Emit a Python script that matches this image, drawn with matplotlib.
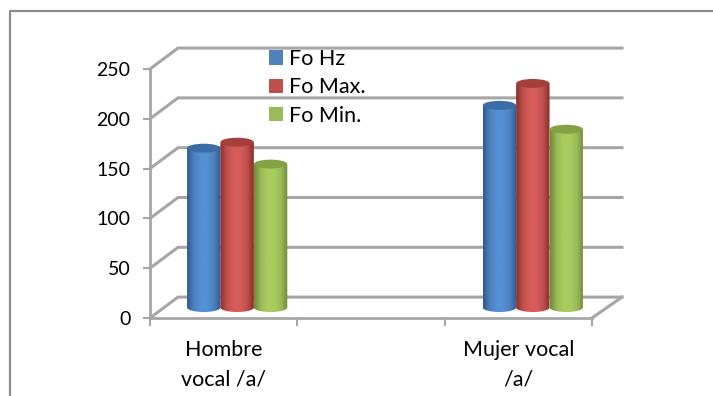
import numpy as np
import matplotlib
matplotlib.use("Agg")
import matplotlib.pyplot as plt
from matplotlib.patches import Ellipse, PathPatch, Rectangle
from matplotlib.path import Path
from matplotlib.lines import Line2D
from matplotlib.colors import LinearSegmentedColormap

categories = ["Hombre\nvocal /a/", "", "Mujer vocal\n/a/"]
series_names = ["Fo Hz", "Fo Max.", "Fo Min."]
fo_hz = [160, None, 203]
fo_max = [166, None, 225]
fo_min = [144, None, 179]
y_ticks = [0, 50, 100, 150, 200, 250]

base_colors = ["#4F81BD", "#C0504D", "#9BBB59"]
dark_edges = ["#2F5A92", "#8A2F2D", "#6F8C37"]
bright_mid = ["#5390D6", "#D65C59", "#A9CC5E"]
top_colors = ["#3B6CA8", "#A53F3C", "#83A244"]
GRAY = "#A6A6A6"

plt.rcParams["font.family"] = ["Lato", "DejaVu Sans"]
W, H = 713, 396
fig = plt.figure(figsize=(W / 100, H / 100), dpi=100)

# Front plane of the 3D box; the back wall sits behind it at a fixed depth.
ax = fig.add_axes([150 / W, 1 - 318 / H, 442 / W, 249 / H])
ax.set_xlim(0, 3)
ax.set_ylim(0, 250)
ax.patch.set_alpha(0)
for s in ("top", "right"):
    ax.spines[s].set_visible(False)
for s in ("left", "bottom"):
    ax.spines[s].set_color(GRAY)
    ax.spines[s].set_linewidth(2)

cat_px = 442 / 3
depth_left = 28 / cat_px
depth_right = 30 / cat_px
depth_y = 21

ax.set_yticks(y_ticks)
ax.tick_params(axis="y", length=5, width=1.5, color=GRAY, labelsize=14, pad=9)
ax.set_xticks([0, 1, 2, 3])
ax.set_xticklabels([])
ax.tick_params(axis="x", length=6, width=1.5, color=GRAY)
ax.set_xticks([0.5, 1.5, 2.5], minor=True)
ax.set_xticklabels(categories, minor=True, fontsize=15.5, linespacing=1.6)
ax.tick_params(axis="x", which="minor", length=0, pad=15.7)

# Back-wall gridlines with the diagonal return to the front axis.
for v in y_ticks:
    ax.plot([0, depth_left, 3 + depth_right], [v, v + depth_y, v + depth_y],
            color=GRAY, lw=2.2, clip_on=False, zorder=1, solid_joinstyle="miter")
ax.plot([3, 3 + depth_right], [0, depth_y], color=GRAY, lw=2.2, clip_on=False, zorder=1)

bar_w = 33.4 / cat_px
ell_h = 9
lift = 10.5
group_centers = [0.5 + 13.5 / cat_px, None, 2.5 + 14.5 / cat_px]
series = [fo_hz, fo_max, fo_min]

for i, vals in enumerate(series):
    cmap = LinearSegmentedColormap.from_list(
        "c", [dark_edges[i], base_colors[i], bright_mid[i], bright_mid[i], base_colors[i], dark_edges[i]])
    grad = np.linspace(0, 1, 64).reshape(1, -1)
    for c, v in enumerate(vals):
        if v is None:
            continue
        x0 = group_centers[c] + (i - 1.5) * bar_w
        x1 = x0 + bar_w
        xm = (x0 + x1) / 2
        y0, y1 = lift, lift + v
        kappa = 0.5523
        hw, hh = bar_w / 2, ell_h / 2
        # Cylinder outline: straight sides with a rounded lower edge.
        verts = [(x0, y1), (x0, y0),
                 (x0, y0 - kappa * hh), (xm - kappa * hw, y0 - hh), (xm, y0 - hh),
                 (xm + kappa * hw, y0 - hh), (x1, y0 - kappa * hh), (x1, y0),
                 (x1, y1), (x0, y1)]
        codes = [Path.MOVETO, Path.LINETO, Path.CURVE4, Path.CURVE4, Path.CURVE4,
                 Path.CURVE4, Path.CURVE4, Path.CURVE4, Path.LINETO, Path.CLOSEPOLY]
        body = PathPatch(Path(verts, codes), fc="none", ec="none", transform=ax.transData)
        ax.add_patch(body)
        im = ax.imshow(grad, extent=(x0, x1, y0 - hh, y1), cmap=cmap, aspect="auto",
                       zorder=3 + i * 0.1, clip_on=True, interpolation="bilinear")
        im.set_clip_path(body)
        ax.add_patch(Ellipse((xm, y1), bar_w, ell_h, fc=top_colors[i], ec="none",
                             zorder=3.05 + i * 0.1, clip_on=False))
ax.set_xlim(0, 3)
ax.set_ylim(0, 250)

# Legend entries placed over the back wall.
handles = [Rectangle((0, 0), 1, 1, fc=c, ec="none") for c in base_colors]
ax.legend(handles, series_names, loc="upper left", bbox_to_anchor=((269 - 150) / 442, 1.08),
          frameon=False, fontsize=15.5, handlelength=0.65, handleheight=0.65,
          handletextpad=0.28, labelspacing=0.39, borderpad=0, borderaxespad=0)

# Outer chart frame: top and left edges run off the image.
fig.add_artist(Line2D([10 / W, 10 / W, 1], [0, 1 - 11 / H, 1 - 11 / H],
                      color="#8C8C8C", lw=1.6))

fig.savefig("out.png", dpi=100)
